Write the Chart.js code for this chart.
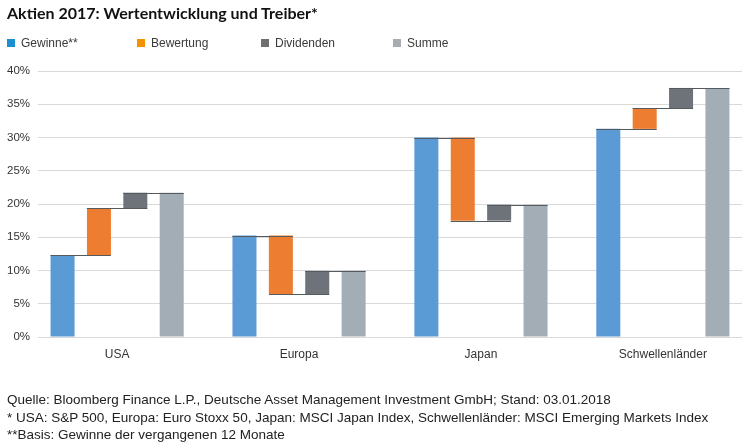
<!DOCTYPE html>
<html>
<head>
<meta charset="utf-8">
<script src="https://cdn.jsdelivr.net/npm/chart.js@4.4.1/dist/chart.umd.min.js"></script>
<style>
  html, body { margin: 0; padding: 0; background: #fff; }
  #wrap { position: relative; width: 754px; height: 447px; overflow: hidden; }
  #chart { position: absolute; left: 0; top: 0; }
  .title { position: absolute; left: 7px; top: 3px; font-family: Lato, "Open Sans", sans-serif; font-weight: bold; font-size: 16px; color: #111; white-space: nowrap; }
  .legend { position: absolute; top: 36px; font-family: "Liberation Sans", Arial, sans-serif; font-size: 12px; color: #3a3a3a; white-space: nowrap; }
  .legend span.box { display: inline-block; width: 8px; height: 8px; margin-right: 6px; vertical-align: 0px; }
  .foot { position: absolute; left: 7px; font-family: "Liberation Sans", Arial, sans-serif; font-size: 13.5px; color: #222; white-space: nowrap; line-height: 16px; }
</style>
</head>
<body>
<div id="wrap">
  <canvas id="chart" width="754" height="447"></canvas>
  <div class="title">Aktien 2017: Wertentwicklung und Treiber*</div>
  <div id="legend"></div>
  <div class="foot" style="top:392px">Quelle: Bloomberg Finance L.P., Deutsche Asset Management Investment GmbH; Stand: 03.01.2018</div>
  <div class="foot" style="top:410px">* USA: S&amp;P 500, Europa: Euro Stoxx 50, Japan: MSCI Japan Index, Schwellenländer: MSCI Emerging Markets Index</div>
  <div class="foot" style="top:427px">**Basis: Gewinne der vergangenen 12 Monate</div>
</div>
<script>
// ---- data (percentage points) ----
const categories = ["USA", "Europa", "Japan", "Schwellenländer"];
const gewinne    = [12.3, 15.25, 30.0, 31.3];
const bewertung  = [7.05, -8.8, -12.5, 3.1];
const dividenden = [2.35, 3.5, 2.4, 3.05];
const summe      = [21.7, 9.95, 19.9, 37.45];
const seriesNames = ["Gewinne**", "Bewertung", "Dividenden", "Summe"];
const yTicks = [0, 5, 10, 15, 20, 25, 30, 35, 40];

const barColors    = ["#5b9bd5", "#ed7d31", "#6e7379", "#a3adb6"];
const legendColors = ["#1b8fd0", "#f39200", "#6e6f71", "#a8adb3"];

// ---- legend (HTML) ----
const legendX = [7, 137, 261, 393];
const lg = document.getElementById("legend");
seriesNames.forEach((n, i) => {
  const d = document.createElement("div");
  d.className = "legend";
  d.style.left = legendX[i] + "px";
  d.innerHTML = '<span class="box" style="background:' + legendColors[i] + '"></span>' + n;
  lg.appendChild(d);
});

// ---- floating ranges built from the contributions ----
const rGew = gewinne.map(v => [0, v]);
const rBew = gewinne.map((g, i) => [g, g + bewertung[i]]);
const rDiv = gewinne.map((g, i) => [g + bewertung[i], g + bewertung[i] + dividenden[i]]);
const rSum = summe.map(v => [0, v]);

// connector lines between consecutive bars of a group
const connectorPlugin = {
  id: "connectors",
  afterDatasetsDraw(chart) {
    const ctx = chart.ctx;
    const y = chart.scales.y;
    ctx.save();
    ctx.strokeStyle = "#555a5f";
    ctx.lineWidth = 1;
    for (let i = 0; i < categories.length; i++) {
      const levels = [gewinne[i], gewinne[i] + bewertung[i], summe[i]];
      for (let k = 0; k < 3; k++) {
        const a = chart.getDatasetMeta(k).data[i];
        const b = chart.getDatasetMeta(k + 1).data[i];
        const x0 = a.x - a.width / 2;
        const x1 = b.x + b.width / 2;
        const py = Math.round(y.getPixelForValue(levels[k])) + 0.5;
        ctx.beginPath();
        ctx.moveTo(x0, py);
        ctx.lineTo(x1, py);
        ctx.stroke();
      }
    }
    ctx.restore();
  }
};

const tickFont = { family: "'Liberation Sans', Arial, sans-serif", size: 12 };

new Chart(document.getElementById("chart"), {
  type: "bar",
  data: {
    labels: categories,
    datasets: [rGew, rBew, rDiv, rSum].map((d, i) => ({
      label: seriesNames[i],
      data: d,
      backgroundColor: barColors[i],
      borderWidth: 0,
      categoryPercentage: 0.8,
      barPercentage: 0.66
    }))
  },
  options: {
    responsive: false,
    animation: false,
    devicePixelRatio: 1,
    layout: { padding: { left: 0, right: 12, top: 71, bottom: 80 } },
    plugins: { legend: { display: false }, title: { display: false }, tooltip: { enabled: false } },
    scales: {
      x: {
        grid: { display: false, drawTicks: false },
        border: { display: false },
        ticks: { font: tickFont, color: "#333", padding: 10, maxRotation: 0 },
        afterFit(s) { s.height = 30; },
        afterUpdate(s) { s._startValue = -0.435; s._valueRange = 3.87; }
      },
      y: {
        min: 0, max: 40,
        afterBuildTicks(s) { s.ticks = yTicks.map(v => ({ value: v })); },
        grid: { color: "#d9d9d9", lineWidth: 1, drawTicks: false },
        border: { display: false },
        ticks: { font: { family: "'Liberation Sans', Arial, sans-serif", size: 11.5 }, color: "#333", padding: 8, callback: v => v + "%" },
        afterFit(s) { s.width = 38; }
      }
    }
  },
  plugins: [connectorPlugin]
});
</script>
</body>
</html>
